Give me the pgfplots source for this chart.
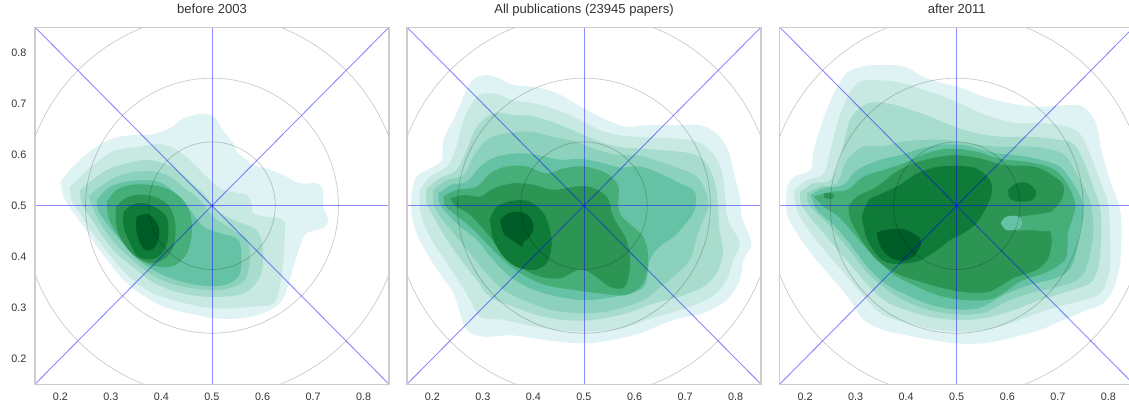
\documentclass[border=0pt]{standalone}
\usepackage{fontspec}
\setmainfont{Liberation Sans}
\usepackage{pgfplots}
\pgfplotsset{compat=1.18}
\definecolor{c1}{HTML}{E0F3F4}
\definecolor{c2}{HTML}{C7E9E1}
\definecolor{c3}{HTML}{A8DDCD}
\definecolor{c4}{HTML}{8BD1BB}
\definecolor{c5}{HTML}{66C2A4}
\definecolor{c6}{HTML}{46AE78}
\definecolor{c7}{HTML}{2C9554}
\definecolor{c8}{HTML}{0E7B38}
\definecolor{c9}{HTML}{005C26}
\definecolor{framegray}{HTML}{CCCCCC}
\definecolor{tickc}{HTML}{333333}
\tikzset{circ/.style={draw=black, draw opacity=0.2, line width=0.55pt}}
\pgfplotsset{
  panel/.style={
    scale only axis, width=265.5pt, height=267.75pt,
    xmin=0.15, xmax=0.85, ymin=0.15, ymax=0.85,
    xtick={0.2,0.3,0.4,0.5,0.6,0.7,0.8},
    ytick={0.2,0.3,0.4,0.5,0.6,0.7,0.8},
    major tick length=0pt, tick style={draw=none},
    axis line style={draw=framegray, line width=1pt},
    axis on top=true,
    /pgf/number format/assume math mode=true,
    /pgf/number format/fixed, /pgf/number format/fixed zerofill, /pgf/number format/precision=1,
    xticklabel style={anchor=north, inner sep=0pt, yshift=-6.5pt, font=\fontsize{8.1}{9}\selectfont, text=tickc},
    yticklabel style={anchor=east, inner sep=0pt, xshift=-6.2pt, font=\fontsize{8.1}{9}\selectfont, text=tickc},
    title style={at={(0.5,1)}, anchor=base, yshift=4.6pt, font=\fontsize{9.8}{11}\selectfont, text=tickc},
  },
  lev/.style={fill=#1, draw=none, smooth, tension=0.55, forget plot},
  bl/.style={draw=blue, draw opacity=0.45, line width=0.7pt, forget plot},
}
\newcommand{\refs}{%
  \addplot[bl] coordinates {(0.5,0.15) (0.5,0.85)};
  \addplot[bl] coordinates {(0.15,0.5) (0.85,0.5)};
  \addplot[bl] coordinates {(0.15,0.15) (0.85,0.85)};
  \addplot[bl] coordinates {(0.15,0.85) (0.85,0.15)};
  \draw[circ] (axis cs:0.5,0.5) ellipse [x radius=0.125, y radius=0.125];
  \draw[circ] (axis cs:0.5,0.5) ellipse [x radius=0.25, y radius=0.25];
  \draw[circ] (axis cs:0.5,0.5) ellipse [x radius=0.375, y radius=0.375];
}
\begin{document}
\begin{tikzpicture}
\path[use as bounding box, clip] (0,0) rectangle (846.75pt,302.25pt);
% ---------------- Panel 1 ----------------
\begin{axis}[panel, at={(26.25pt,14.1pt)}, anchor=south west, title={before 2003}]
\addplot[lev=c1] coordinates {(0.201,0.547) (0.213,0.563) (0.239,0.590) (0.272,0.616) (0.305,0.632) (0.344,0.639) (0.377,0.639) (0.417,0.652) (0.443,0.671) (0.476,0.680) (0.503,0.675) (0.522,0.648) (0.542,0.622) (0.552,0.603) (0.582,0.580) (0.608,0.573) (0.641,0.560) (0.674,0.544) (0.707,0.544) (0.719,0.531) (0.720,0.498) (0.730,0.472) (0.720,0.456) (0.687,0.446) (0.674,0.420) (0.661,0.380) (0.648,0.335) (0.634,0.308) (0.601,0.289) (0.555,0.279) (0.503,0.279) (0.470,0.286) (0.437,0.292) (0.397,0.305) (0.358,0.328) (0.325,0.354) (0.298,0.387) (0.272,0.420) (0.246,0.459) (0.222,0.492) (0.206,0.518) (0.201,0.547)} -- cycle;
\addplot[lev=c2] coordinates {(0.219,0.537) (0.246,0.563) (0.279,0.590) (0.311,0.609) (0.358,0.616) (0.391,0.621) (0.417,0.616) (0.440,0.603) (0.463,0.583) (0.489,0.557) (0.516,0.534) (0.542,0.527) (0.569,0.521) (0.578,0.505) (0.582,0.485) (0.608,0.478) (0.641,0.472) (0.644,0.446) (0.641,0.393) (0.634,0.341) (0.621,0.308) (0.582,0.302) (0.542,0.299) (0.503,0.299) (0.463,0.305) (0.424,0.315) (0.384,0.328) (0.344,0.354) (0.311,0.387) (0.285,0.420) (0.259,0.452) (0.239,0.485) (0.222,0.511) (0.219,0.537)} -- cycle;
\addplot[lev=c3] coordinates {(0.239,0.531) (0.259,0.547) (0.292,0.570) (0.331,0.583) (0.371,0.590) (0.404,0.583) (0.430,0.570) (0.457,0.547) (0.489,0.518) (0.509,0.491) (0.542,0.472) (0.588,0.452) (0.601,0.413) (0.595,0.361) (0.562,0.328) (0.503,0.321) (0.457,0.325) (0.417,0.335) (0.377,0.354) (0.344,0.380) (0.311,0.406) (0.285,0.439) (0.259,0.478) (0.242,0.505) (0.239,0.531)} -- cycle;
\addplot[lev=c4] coordinates {(0.256,0.518) (0.279,0.537) (0.311,0.557) (0.351,0.567) (0.384,0.567) (0.417,0.557) (0.443,0.537) (0.476,0.511) (0.503,0.478) (0.542,0.452) (0.569,0.433) (0.575,0.393) (0.562,0.351) (0.516,0.335) (0.463,0.338) (0.417,0.348) (0.377,0.367) (0.344,0.393) (0.314,0.420) (0.288,0.452) (0.269,0.485) (0.256,0.518)} -- cycle;
\addplot[lev=c5] coordinates {(0.272,0.511) (0.298,0.537) (0.331,0.547) (0.364,0.550) (0.394,0.547) (0.417,0.534) (0.437,0.514) (0.457,0.491) (0.483,0.459) (0.516,0.446) (0.552,0.433) (0.558,0.393) (0.552,0.361) (0.522,0.344) (0.476,0.344) (0.430,0.354) (0.391,0.370) (0.351,0.396) (0.318,0.433) (0.292,0.465) (0.275,0.491) (0.272,0.511)} -- cycle;
\addplot[lev=c6] coordinates {(0.292,0.508) (0.311,0.531) (0.341,0.541) (0.377,0.541) (0.410,0.534) (0.440,0.514) (0.457,0.485) (0.460,0.446) (0.450,0.406) (0.427,0.383) (0.397,0.380) (0.364,0.390) (0.335,0.416) (0.311,0.446) (0.295,0.478) (0.292,0.508)} -- cycle;
\addplot[lev=c7] coordinates {(0.310,0.498) (0.331,0.516) (0.361,0.522) (0.391,0.516) (0.414,0.500) (0.425,0.478) (0.428,0.446) (0.422,0.415) (0.405,0.395) (0.385,0.388) (0.362,0.393) (0.340,0.408) (0.320,0.435) (0.310,0.465) (0.310,0.498)} -- cycle;
\addplot[lev=c8] coordinates {(0.325,0.488) (0.341,0.501) (0.364,0.505) (0.391,0.495) (0.410,0.478) (0.414,0.452) (0.409,0.420) (0.394,0.400) (0.372,0.395) (0.351,0.403) (0.335,0.433) (0.325,0.459) (0.325,0.488)} -- cycle;
\addplot[lev=c9] coordinates {(0.351,0.478) (0.371,0.484) (0.387,0.472) (0.396,0.452) (0.394,0.433) (0.384,0.416) (0.368,0.413) (0.357,0.429) (0.350,0.455) (0.351,0.478)} -- cycle;
\refs
\end{axis}
% ---------------- Panel 2 ----------------
\begin{axis}[panel, at={(305.25pt,14.1pt)}, anchor=south west, yticklabels={}, title={All publications (23945 papers)}]
\addplot[lev=c1] coordinates {(0.159,0.524) (0.169,0.557) (0.196,0.573) (0.219,0.590) (0.222,0.629) (0.248,0.681) (0.274,0.740) (0.301,0.756) (0.327,0.752) (0.360,0.737) (0.400,0.733) (0.439,0.724) (0.472,0.707) (0.505,0.688) (0.545,0.668) (0.584,0.655) (0.624,0.658) (0.677,0.658) (0.729,0.658) (0.762,0.642) (0.785,0.609) (0.795,0.570) (0.808,0.518) (0.812,0.478) (0.831,0.426) (0.815,0.393) (0.808,0.354) (0.782,0.315) (0.736,0.289) (0.677,0.276) (0.611,0.250) (0.558,0.237) (0.505,0.230) (0.453,0.233) (0.400,0.240) (0.354,0.246) (0.301,0.243) (0.268,0.256) (0.255,0.289) (0.242,0.328) (0.215,0.367) (0.189,0.407) (0.169,0.446) (0.159,0.485) (0.159,0.524)} -- cycle;
\addplot[lev=c2] coordinates {(0.176,0.531) (0.196,0.557) (0.229,0.577) (0.248,0.616) (0.262,0.668) (0.288,0.714) (0.321,0.720) (0.360,0.707) (0.400,0.701) (0.446,0.688) (0.492,0.668) (0.532,0.648) (0.571,0.638) (0.611,0.635) (0.709,0.629) (0.749,0.609) (0.772,0.570) (0.779,0.518) (0.785,0.472) (0.808,0.426) (0.795,0.393) (0.785,0.361) (0.762,0.328) (0.709,0.302) (0.624,0.276) (0.571,0.259) (0.505,0.253) (0.446,0.256) (0.387,0.266) (0.341,0.276) (0.295,0.282) (0.275,0.315) (0.255,0.348) (0.229,0.387) (0.203,0.426) (0.183,0.465) (0.175,0.498) (0.176,0.531)} -- cycle;
\addplot[lev=c3] coordinates {(0.189,0.534) (0.215,0.554) (0.248,0.570) (0.268,0.609) (0.288,0.655) (0.321,0.681) (0.360,0.678) (0.400,0.675) (0.446,0.661) (0.492,0.642) (0.532,0.625) (0.571,0.615) (0.611,0.612) (0.709,0.603) (0.742,0.583) (0.759,0.544) (0.765,0.498) (0.768,0.452) (0.775,0.407) (0.762,0.367) (0.736,0.341) (0.690,0.322) (0.637,0.308) (0.584,0.289) (0.518,0.276) (0.459,0.276) (0.406,0.286) (0.360,0.302) (0.314,0.321) (0.288,0.354) (0.262,0.387) (0.229,0.433) (0.206,0.472) (0.189,0.505) (0.189,0.534)} -- cycle;
\addplot[lev=c4] coordinates {(0.202,0.531) (0.229,0.550) (0.262,0.560) (0.281,0.596) (0.308,0.629) (0.347,0.642) (0.394,0.645) (0.439,0.635) (0.485,0.625) (0.525,0.610) (0.564,0.600) (0.611,0.598) (0.677,0.577) (0.723,0.557) (0.742,0.524) (0.746,0.498) (0.736,0.472) (0.723,0.439) (0.709,0.393) (0.677,0.361) (0.644,0.335) (0.617,0.315) (0.558,0.295) (0.499,0.289) (0.439,0.295) (0.387,0.312) (0.341,0.335) (0.308,0.367) (0.275,0.406) (0.242,0.446) (0.216,0.478) (0.202,0.505) (0.202,0.531)} -- cycle;
\addplot[lev=c5] coordinates {(0.212,0.524) (0.238,0.541) (0.268,0.547) (0.295,0.577) (0.327,0.596) (0.373,0.603) (0.413,0.598) (0.453,0.590) (0.492,0.592) (0.532,0.585) (0.571,0.575) (0.611,0.577) (0.657,0.560) (0.690,0.544) (0.716,0.531) (0.722,0.511) (0.716,0.485) (0.696,0.459) (0.677,0.439) (0.650,0.420) (0.630,0.393) (0.624,0.354) (0.611,0.335) (0.558,0.321) (0.505,0.315) (0.453,0.321) (0.400,0.335) (0.354,0.361) (0.321,0.393) (0.288,0.433) (0.255,0.459) (0.229,0.485) (0.214,0.505) (0.212,0.524)} -- cycle;
\addplot[lev=c6] coordinates {(0.222,0.518) (0.248,0.531) (0.288,0.537) (0.314,0.563) (0.347,0.577) (0.387,0.577) (0.426,0.563) (0.459,0.573) (0.499,0.577) (0.545,0.563) (0.568,0.537) (0.571,0.485) (0.617,0.439) (0.627,0.393) (0.617,0.348) (0.584,0.325) (0.532,0.328) (0.479,0.335) (0.426,0.344) (0.380,0.364) (0.341,0.393) (0.308,0.426) (0.275,0.459) (0.242,0.485) (0.225,0.501) (0.222,0.518)} -- cycle;
\addplot[lev=c7] coordinates {(0.235,0.514) (0.262,0.521) (0.295,0.518) (0.321,0.534) (0.360,0.544) (0.400,0.541) (0.439,0.531) (0.479,0.537) (0.512,0.537) (0.545,0.518) (0.558,0.478) (0.584,0.433) (0.591,0.387) (0.581,0.341) (0.551,0.341) (0.518,0.365) (0.492,0.375) (0.453,0.358) (0.413,0.361) (0.373,0.380) (0.341,0.407) (0.308,0.446) (0.275,0.482) (0.248,0.498) (0.235,0.514)} -- cycle;
\addplot[lev=c8] coordinates {(0.314,0.472) (0.327,0.498) (0.360,0.510) (0.393,0.508) (0.420,0.485) (0.433,0.452) (0.436,0.420) (0.426,0.387) (0.400,0.374) (0.367,0.380) (0.341,0.400) (0.321,0.433) (0.314,0.472)} -- cycle;
\addplot[lev=c9] coordinates {(0.334,0.472) (0.350,0.485) (0.374,0.488) (0.393,0.478) (0.400,0.459) (0.393,0.439) (0.380,0.429) (0.377,0.420) (0.357,0.433) (0.341,0.446) (0.334,0.472)} -- cycle;
\refs
\end{axis}
% ---------------- Panel 3 ----------------
\begin{axis}[panel, at={(584.8pt,14.1pt)}, anchor=south west, yticklabels={}, title={after 2011}]
\addplot[lev=c1] coordinates {(0.164,0.537) (0.178,0.557) (0.211,0.570) (0.217,0.609) (0.243,0.688) (0.276,0.753) (0.309,0.772) (0.349,0.776) (0.395,0.773) (0.434,0.753) (0.474,0.740) (0.513,0.730) (0.553,0.714) (0.605,0.701) (0.658,0.694) (0.711,0.697) (0.750,0.694) (0.776,0.661) (0.786,0.609) (0.803,0.550) (0.822,0.498) (0.826,0.446) (0.822,0.380) (0.809,0.335) (0.789,0.308) (0.757,0.295) (0.711,0.276) (0.664,0.256) (0.605,0.240) (0.553,0.230) (0.500,0.230) (0.447,0.237) (0.401,0.246) (0.355,0.256) (0.316,0.276) (0.289,0.315) (0.257,0.354) (0.217,0.400) (0.184,0.446) (0.164,0.485) (0.164,0.537)} -- cycle;
\addplot[lev=c2] coordinates {(0.178,0.531) (0.204,0.550) (0.237,0.563) (0.250,0.609) (0.270,0.681) (0.303,0.740) (0.349,0.746) (0.395,0.740) (0.434,0.727) (0.474,0.714) (0.520,0.694) (0.566,0.675) (0.618,0.662) (0.671,0.662) (0.717,0.655) (0.743,0.642) (0.763,0.603) (0.783,0.550) (0.799,0.505) (0.803,0.446) (0.803,0.380) (0.789,0.335) (0.763,0.318) (0.711,0.305) (0.658,0.289) (0.605,0.269) (0.553,0.256) (0.500,0.253) (0.447,0.259) (0.395,0.272) (0.349,0.289) (0.316,0.322) (0.283,0.361) (0.243,0.407) (0.207,0.452) (0.184,0.491) (0.178,0.531)} -- cycle;
\addplot[lev=c3] coordinates {(0.191,0.527) (0.217,0.544) (0.250,0.550) (0.270,0.596) (0.289,0.668) (0.322,0.700) (0.368,0.700) (0.408,0.688) (0.447,0.675) (0.487,0.658) (0.539,0.642) (0.592,0.635) (0.651,0.635) (0.704,0.629) (0.730,0.622) (0.750,0.590) (0.770,0.537) (0.783,0.498) (0.786,0.446) (0.780,0.380) (0.763,0.348) (0.717,0.331) (0.664,0.315) (0.612,0.295) (0.553,0.279) (0.500,0.276) (0.447,0.282) (0.401,0.295) (0.355,0.315) (0.316,0.354) (0.276,0.400) (0.237,0.446) (0.204,0.485) (0.191,0.508) (0.191,0.527)} -- cycle;
\addplot[lev=c4] coordinates {(0.204,0.524) (0.230,0.537) (0.263,0.544) (0.283,0.590) (0.316,0.616) (0.355,0.616) (0.388,0.625) (0.434,0.629) (0.480,0.629) (0.526,0.622) (0.579,0.616) (0.645,0.616) (0.691,0.609) (0.717,0.596) (0.737,0.563) (0.757,0.524) (0.766,0.498) (0.770,0.446) (0.757,0.380) (0.737,0.354) (0.697,0.340) (0.651,0.330) (0.605,0.315) (0.553,0.290) (0.500,0.287) (0.447,0.295) (0.401,0.312) (0.362,0.335) (0.322,0.370) (0.289,0.412) (0.250,0.459) (0.217,0.491) (0.205,0.508) (0.204,0.524)} -- cycle;
\addplot[lev=c5] coordinates {(0.211,0.521) (0.237,0.534) (0.276,0.541) (0.303,0.570) (0.349,0.590) (0.388,0.599) (0.428,0.612) (0.474,0.620) (0.520,0.618) (0.572,0.604) (0.638,0.596) (0.691,0.583) (0.711,0.570) (0.730,0.544) (0.747,0.511) (0.750,0.485) (0.743,0.446) (0.730,0.387) (0.704,0.361) (0.645,0.345) (0.599,0.328) (0.546,0.300) (0.493,0.297) (0.441,0.308) (0.395,0.328) (0.355,0.350) (0.322,0.382) (0.289,0.425) (0.257,0.462) (0.224,0.491) (0.211,0.521)} -- cycle;
\addplot[lev=c6] coordinates {(0.217,0.518) (0.250,0.527) (0.283,0.531) (0.316,0.557) (0.355,0.570) (0.395,0.583) (0.441,0.603) (0.487,0.612) (0.539,0.606) (0.586,0.592) (0.645,0.585) (0.691,0.572) (0.717,0.545) (0.734,0.505) (0.730,0.478) (0.720,0.446) (0.717,0.400) (0.697,0.380) (0.671,0.367) (0.625,0.351) (0.572,0.318) (0.513,0.315) (0.461,0.325) (0.414,0.345) (0.375,0.365) (0.342,0.395) (0.309,0.430) (0.270,0.475) (0.237,0.498) (0.217,0.518)} -- cycle;
\addplot[lev=c7] coordinates {(0.286,0.498) (0.303,0.518) (0.342,0.537) (0.375,0.563) (0.414,0.583) (0.461,0.595) (0.500,0.599) (0.546,0.593) (0.592,0.580) (0.651,0.577) (0.684,0.563) (0.711,0.540) (0.707,0.511) (0.691,0.492) (0.681,0.472) (0.688,0.433) (0.681,0.397) (0.658,0.374) (0.612,0.358) (0.566,0.332) (0.520,0.330) (0.474,0.338) (0.428,0.351) (0.382,0.367) (0.339,0.397) (0.306,0.442) (0.289,0.475) (0.286,0.498)} -- cycle;
\addplot[lev=c7] coordinates {(0.237,0.524) (0.250,0.525) (0.258,0.519) (0.250,0.513) (0.238,0.516) (0.237,0.524)} -- cycle;
\addplot[lev=c6] coordinates {(0.612,0.477) (0.651,0.482) (0.691,0.488) (0.717,0.493) (0.727,0.479) (0.717,0.456) (0.684,0.450) (0.645,0.452) (0.612,0.453) (0.612,0.477)} -- cycle;
\addplot[lev=c5] coordinates {(0.587,0.466) (0.597,0.478) (0.618,0.480) (0.628,0.472) (0.625,0.456) (0.599,0.452) (0.587,0.466)} -- cycle;
\addplot[lev=c8] coordinates {(0.3125,0.478) (0.326,0.511) (0.355,0.525) (0.388,0.541) (0.421,0.563) (0.461,0.576) (0.500,0.578) (0.539,0.573) (0.566,0.550) (0.569,0.524) (0.559,0.498) (0.539,0.465) (0.513,0.446) (0.487,0.433) (0.461,0.413) (0.428,0.393) (0.401,0.387) (0.368,0.387) (0.345,0.400) (0.322,0.436) (0.3125,0.478)} -- cycle;
\addplot[lev=c8] coordinates {(0.602,0.531) (0.618,0.544) (0.641,0.544) (0.657,0.527) (0.649,0.511) (0.625,0.508) (0.605,0.514) (0.602,0.531)} -- cycle;
\addplot[lev=c9] coordinates {(0.342,0.446) (0.355,0.452) (0.395,0.454) (0.424,0.439) (0.429,0.423) (0.414,0.400) (0.395,0.392) (0.368,0.399) (0.349,0.420) (0.342,0.446)} -- cycle;
\refs
\end{axis}
\end{tikzpicture}
\end{document}
